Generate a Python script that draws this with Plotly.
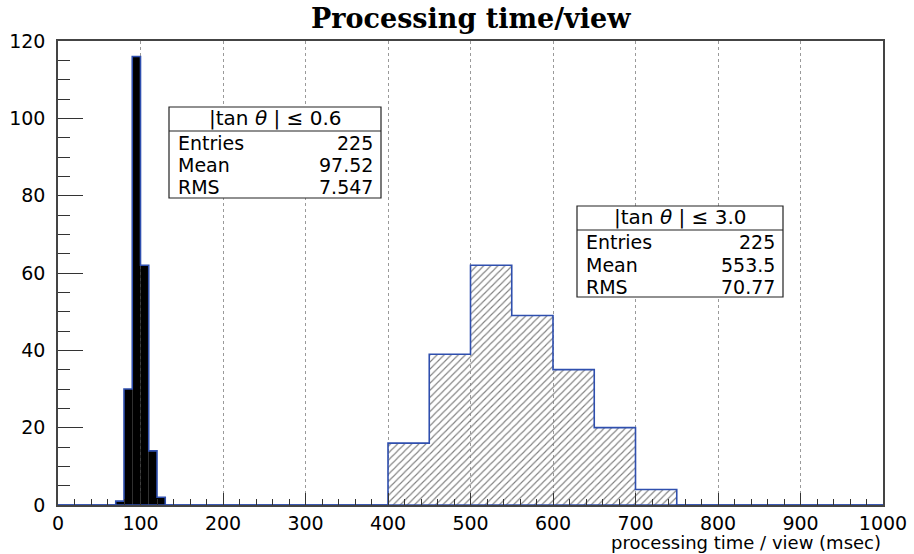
import plotly.graph_objects as go

# ---- data ----
narrow_edges = [70, 80, 90, 100, 110, 120, 130]
narrow_counts = [1, 30, 116, 62, 14, 2]
wide_edges = [400, 450, 500, 550, 600, 650, 700, 750]
wide_counts = [16, 39, 62, 49, 35, 20, 4]
x_range = [0, 1000]
y_range = [0, 120]
title_text = "Processing time/view"
x_title = "processing time / view (msec)"
box1_header = "|tan <i>θ</i> | ≤ 0.6"
box1_stats = [("Entries", "225"), ("Mean", "97.52"), ("RMS", "7.547")]
box2_header = "|tan <i>θ</i> | ≤ 3.0"
box2_stats = [("Entries", "225"), ("Mean", "553.5"), ("RMS", "70.77")]

W, H = 914, 554
ML, MR, MT, MB = 58, 31, 41, 49
PW, PH = W - ML - MR, H - MT - MB

def px(x):
    return (x - ML) / PW

def py(y):
    return (H - MB - y) / PH

def centers(edges):
    return [(a + b) / 2 for a, b in zip(edges[:-1], edges[1:])]

def widths(edges):
    return [b - a for a, b in zip(edges[:-1], edges[1:])]

def step(edges, counts):
    xs = [x_range[0]] + list(edges[:-1]) + [edges[-1], x_range[1]]
    ys = [0] + list(counts) + [0, 0]
    return xs, ys

BLUE = "#2f4fae"
fig = go.Figure()

fig.add_trace(go.Bar(x=centers(wide_edges), y=wide_counts, width=widths(wide_edges),
                     marker=dict(color="#808080", line=dict(width=0),
                                 pattern=dict(shape="/", size=5, solidity=0.22,
                                              fgcolor="#808080", fillmode="replace")),
                     showlegend=False, hoverinfo="skip"))
fig.add_trace(go.Bar(x=centers(narrow_edges), y=narrow_counts, width=widths(narrow_edges),
                     marker=dict(color="black", line=dict(width=0)),
                     showlegend=False, hoverinfo="skip"))
for e, c in [(wide_edges, wide_counts), (narrow_edges, narrow_counts)]:
    xs, ys = step(e, c)
    fig.add_trace(go.Scatter(x=xs, y=ys, mode="lines", line=dict(color=BLUE, width=1.6, shape="hv"),
                             showlegend=False, hoverinfo="skip", cliponaxis=False))

tickfont = dict(family="DejaVu Sans", size=19, color="black")
fig.update_layout(
    width=W, height=H, margin=dict(l=ML, r=MR, t=MT, b=MB),
    paper_bgcolor="white", plot_bgcolor="white", barmode="overlay",
    font=dict(family="DejaVu Sans", color="black"),
    xaxis=dict(range=x_range, dtick=100, tick0=0, ticks="inside", ticklen=12, tickwidth=1,
               tickcolor="#333", showline=True, linecolor="#444", linewidth=1.5, mirror=True,
               showgrid=True, gridcolor="#9a9a9a", griddash="dot", gridwidth=1,
               zeroline=False, tickfont=tickfont, ticklabelstandoff=0, automargin=False,
               minor=dict(dtick=20, ticks="inside", ticklen=6, tickcolor="#333", showgrid=False)),
    yaxis=dict(range=y_range, dtick=20, tick0=0, ticks="inside", ticklen=25, tickwidth=1,
               tickcolor="#333", showline=True, linecolor="#444", linewidth=1.5, mirror=True,
               showgrid=False, zeroline=False, tickfont=tickfont, ticklabelstandoff=7,
               automargin=False,
               minor=dict(dtick=5, ticks="inside", ticklen=12, tickcolor="#333", showgrid=False)),
)

annotations = []
shapes = []

annotations.append(dict(text=title_text, x=px(471), y=py(18), xref="paper", yref="paper",
                        xanchor="center", yanchor="middle", showarrow=False,
                        font=dict(family="DejaVu Serif", size=27, color="black", weight="bold")))
annotations.append(dict(text=x_title, x=px(883), y=py(542), xref="paper", yref="paper",
                        xanchor="right", yanchor="middle", showarrow=False,
                        font=dict(family="DejaVu Sans", size=18, color="black")))

def stat_box(x0, x1, y0, ydiv, y1, header, header_y, stats, rows_y):
    shapes.append(dict(type="rect", xref="paper", yref="paper", x0=px(x0), x1=px(x1),
                       y0=py(y1), y1=py(y0), fillcolor="white", line=dict(color="#222", width=1.2),
                       layer="above"))
    shapes.append(dict(type="line", xref="paper", yref="paper", x0=px(x0), x1=px(x1),
                       y0=py(ydiv), y1=py(ydiv), line=dict(color="#222", width=1.2), layer="above"))
    annotations.append(dict(text=header, x=px((x0 + x1) / 2), y=py(header_y), xref="paper", yref="paper",
                            xanchor="center", yanchor="middle", showarrow=False,
                            font=dict(family="DejaVu Sans", size=20, color="black")))
    for (lab, val), yy in zip(stats, rows_y):
        annotations.append(dict(text=lab, x=px(x0 + 7), y=py(yy), xref="paper", yref="paper",
                                xanchor="left", yanchor="middle", showarrow=False,
                                font=dict(family="DejaVu Sans", size=19, color="black")))
        annotations.append(dict(text=val, x=px(x1 - 6), y=py(yy), xref="paper", yref="paper",
                                xanchor="right", yanchor="middle", showarrow=False,
                                font=dict(family="DejaVu Sans", size=19, color="black")))

stat_box(169, 381, 107, 131, 198, box1_header, 118, box1_stats, [143, 165.5, 187.5])
stat_box(577, 783, 206, 230, 297, box2_header, 217, box2_stats, [242, 264.5, 286.5])

fig.update_layout(annotations=annotations, shapes=shapes)
fig.write_html("out.html")
